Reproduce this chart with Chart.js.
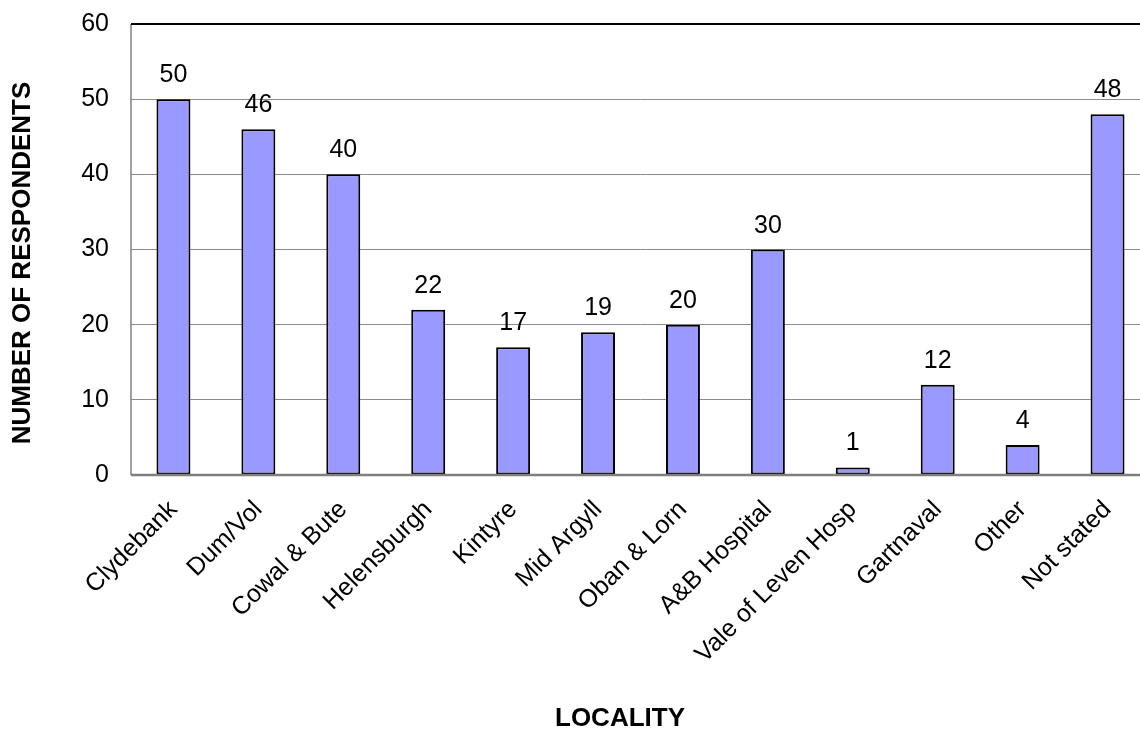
<!DOCTYPE html>
<html>
<head>
<meta charset="utf-8">
<script src="https://cdn.jsdelivr.net/npm/chart.js@4"></script>
<style>
  html, body { margin: 0; padding: 0; background: #fff; overflow: hidden; }
  #wrap { width: 1150px; height: 731px; position: relative; overflow: hidden; }
  #c { position: absolute; left: 0; top: -13px; }
</style>
</head>
<body>
<div id="wrap"><canvas id="c" width="1150" height="744"></canvas></div>
<script>
const categories = ["Clydebank", "Dum/Vol", "Cowal & Bute", "Helensburgh", "Kintyre", "Mid Argyll", "Oban & Lorn", "A&B Hospital", "Vale of Leven Hosp", "Gartnaval", "Other", "Not stated"];
const respondents = [50, 46, 40, 22, 17, 19, 20, 30, 1, 12, 4, 48];
const yTicks = [0, 10, 20, 30, 40, 50, 60];
const yTitle = "NUMBER OF RESPONDENTS";
const xTitle = "LOCALITY";

const FONT = "'Liberation Sans', Arial, sans-serif";
const SHIFT = 13; // canvas is offset upward by this many pixels

const decor = {
  id: 'decor',
  beforeDatasetsDraw(chart) {
    const { ctx, chartArea: a } = chart;
    ctx.save();
    ctx.strokeStyle = '#7f7f7f';
    ctx.lineWidth = 1.5;
    ctx.beginPath();
    ctx.moveTo(a.left, a.top);
    ctx.lineTo(a.left, a.bottom);
    ctx.stroke();
    ctx.strokeStyle = '#000';
    ctx.lineWidth = 2;
    ctx.beginPath();
    ctx.moveTo(a.left, a.top);
    ctx.lineTo(a.right, a.top);
    ctx.stroke();
    ctx.restore();
  },
  afterDatasetsDraw(chart) {
    const { ctx, chartArea: a } = chart;
    ctx.save();
    ctx.strokeStyle = '#7f7f7f';
    ctx.lineWidth = 2.5;
    ctx.beginPath();
    ctx.moveTo(a.left, a.bottom);
    ctx.lineTo(a.right, a.bottom);
    ctx.stroke();
    // value labels
    ctx.fillStyle = '#000';
    ctx.font = "25px " + FONT;
    ctx.textAlign = 'center';
    ctx.textBaseline = 'alphabetic';
    const meta = chart.getDatasetMeta(0);
    meta.data.forEach((bar, i) => {
      ctx.fillText(String(chart.data.datasets[0].data[i]), bar.x, bar.y - 17);
    });
    // axis titles
    ctx.font = "bold 26px " + FONT;
    ctx.textBaseline = 'middle';
    ctx.fillText(xTitle, 620, 719 + SHIFT);
    ctx.translate(23, 263 + SHIFT);
    ctx.rotate(-Math.PI / 2);
    ctx.fillText(yTitle, 0, 0);
    ctx.restore();
  }
};

new Chart(document.getElementById('c'), {
  type: 'bar',
  data: {
    labels: categories,
    datasets: [{
      data: respondents,
      backgroundColor: '#9999FF',
      borderColor: '#000000',
      borderWidth: 2,
      borderSkipped: false,
      barPercentage: 0.4,
      categoryPercentage: 1.0
    }]
  },
  options: {
    responsive: false,
    animation: false,
    devicePixelRatio: 1,
    layout: { padding: { left: 5, top: 11, right: 0, bottom: 0 } },
    plugins: { legend: { display: false }, tooltip: { enabled: false } },
    scales: {
      x: {
        grid: { display: false, drawTicks: false },
        border: { display: false },
        ticks: {
          color: '#000',
          font: { family: FONT, size: 25 },
          minRotation: 45,
          maxRotation: 45,
          padding: 20,
          autoSkip: false
        },
        afterFit(scale) { scale.height = 256; }
      },
      y: {
        min: 0,
        max: 60,
        afterBuildTicks(scale) { scale.ticks = yTicks.map(v => ({ value: v })); },
        grid: { color: '#8c8c8c', lineWidth: 1, drawTicks: false },
        border: { display: false },
        ticks: {
          color: '#000',
          font: { family: FONT, size: 25 },
          padding: 22
        },
        afterFit(scale) { scale.width = 126; }
      }
    }
  },
  plugins: [decor]
});
</script>
</body>
</html>
